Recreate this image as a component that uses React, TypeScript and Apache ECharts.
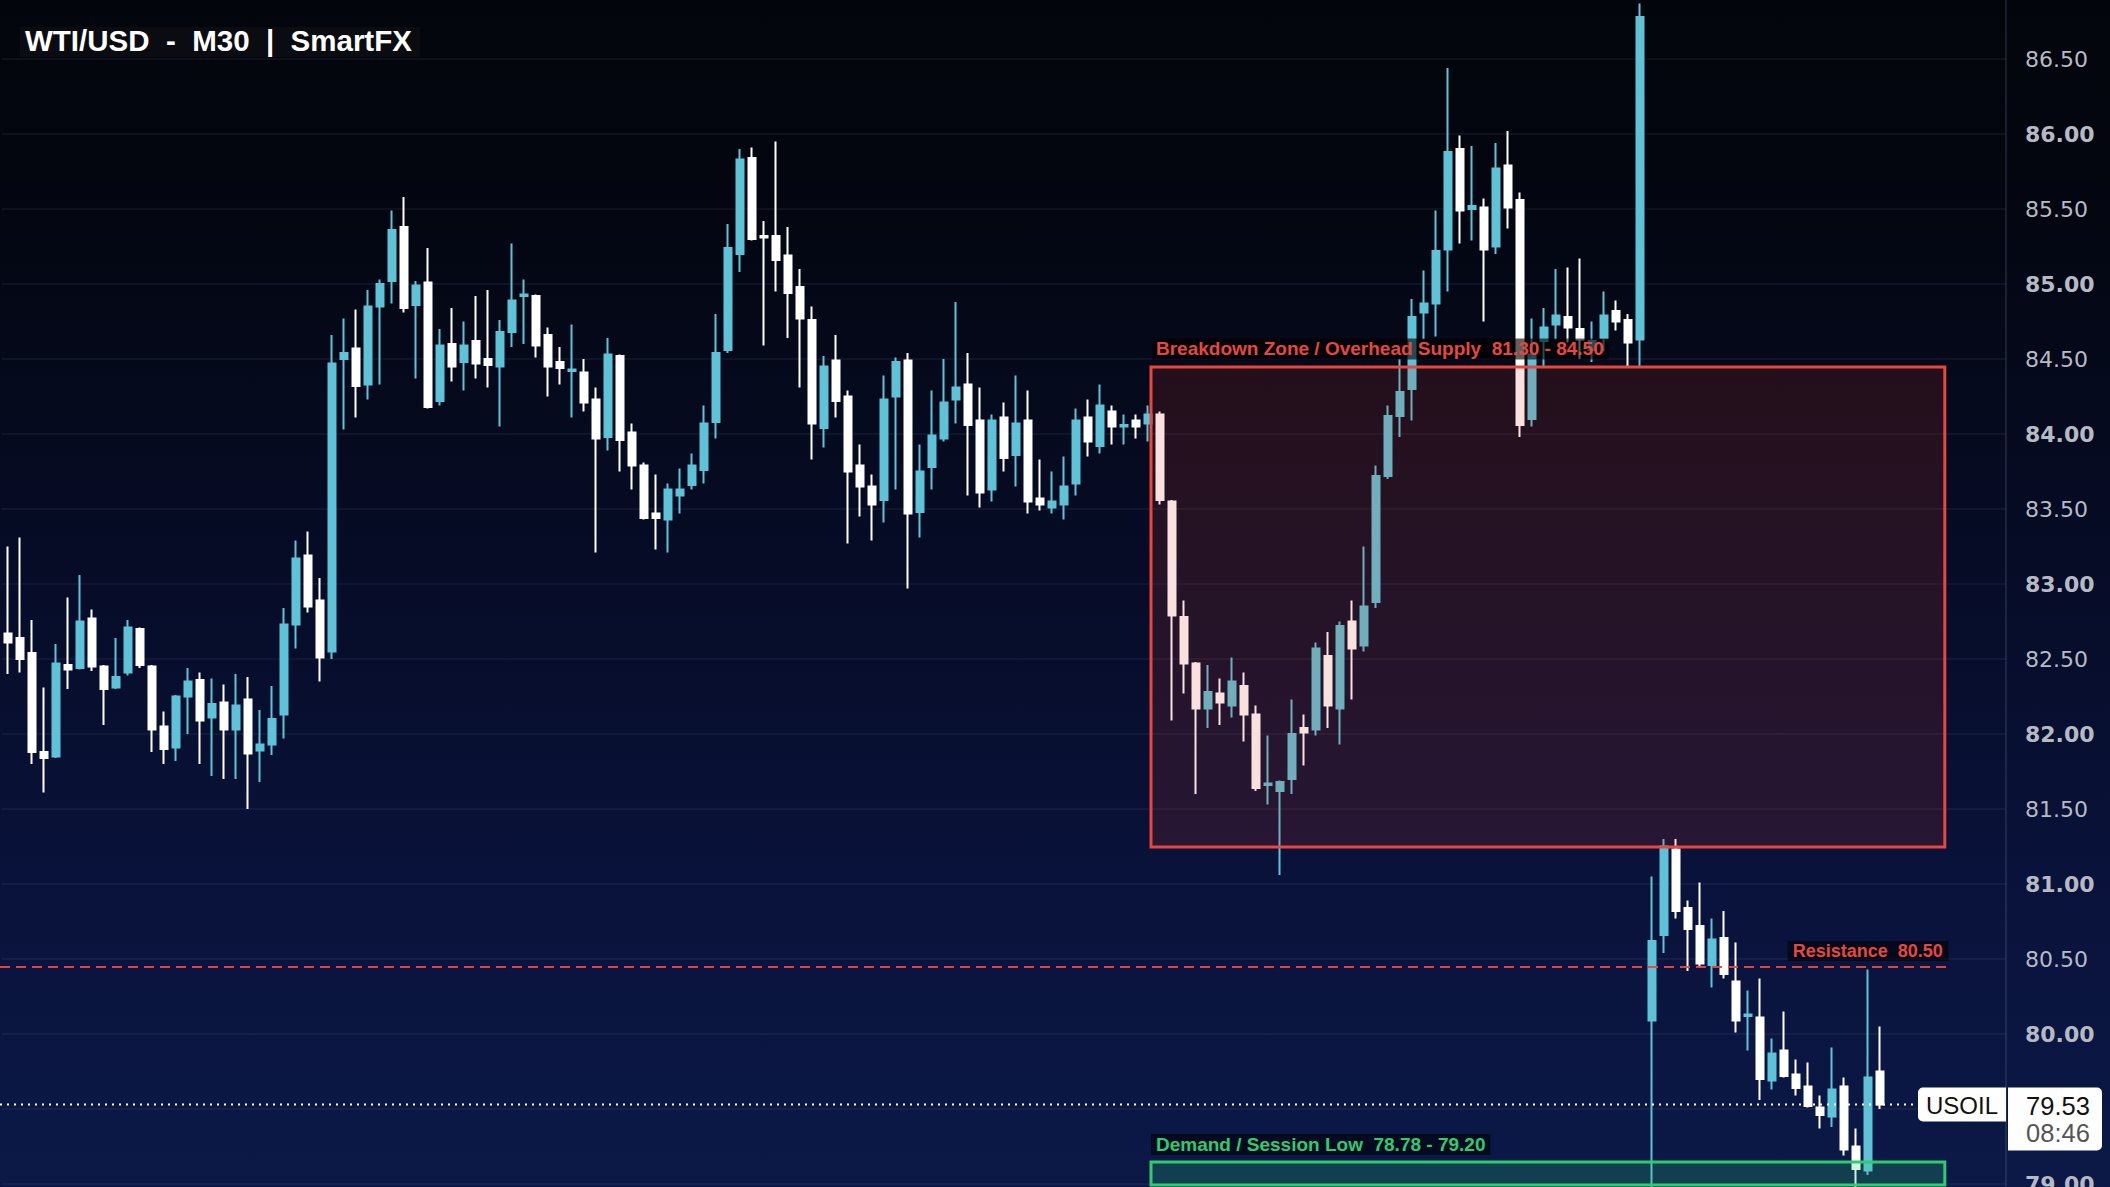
import React, { useEffect, useRef } from "react";
import * as echarts from "echarts";

// ---- OHLC data (M30 bars) ----
const OPEN = [
  82.67, 82.64, 82.54, 81.88, 81.85, 82.46, 82.44, 82.77, 82.45, 82.31,
  82.41, 82.70, 82.45, 82.05, 81.91, 82.25, 82.36, 82.11, 82.21, 82.03,
  82.23, 81.89, 81.93, 82.13, 82.73, 83.19, 82.89, 82.55, 84.50, 84.57,
  84.33, 84.85, 85.02, 85.38, 84.86, 85.01, 84.22, 84.60, 84.48, 84.62,
  84.50, 84.45, 84.68, 84.92, 84.92, 84.66, 84.48, 84.42, 84.41, 84.23,
  83.98, 84.52, 84.01, 83.79, 83.47, 83.43, 83.59, 83.66, 83.76, 84.08,
  84.56, 85.20, 85.84, 85.32, 85.32, 85.19, 84.98, 84.76, 84.04, 84.49,
  84.25, 83.79, 83.65, 83.56, 84.25, 84.49, 83.48, 83.78, 83.97, 84.23,
  84.33, 84.09, 83.63, 84.11, 83.86, 84.09, 83.57, 83.51, 83.53, 83.67,
  84.11, 83.92, 84.15, 84.05, 84.09, 84.07, 84.13, 83.55, 82.78, 82.47,
  82.17, 82.27, 82.19, 82.32, 82.13, 81.66, 81.62, 81.70, 82.04, 82.03,
  82.52, 82.17, 82.75, 82.59, 82.88, 83.72, 84.12, 84.30, 84.81, 84.87,
  85.23, 85.90, 85.50, 85.51, 85.25, 85.79, 85.56, 84.10, 84.62, 84.73,
  84.78, 84.70, 84.56, 84.64, 84.82, 84.76, 84.63, 80.09, 80.66, 81.23,
  80.84, 80.72, 80.46, 80.64, 80.35, 80.12, 80.11, 79.69, 79.89, 79.73,
  79.65, 79.51, 79.45, 79.65, 79.25, 79.09, 79.75,
];
const CLOSE = [
  82.61, 82.50, 81.88, 81.84, 82.47, 82.43, 82.75, 82.45, 82.30, 82.38,
  82.71, 82.46, 82.03, 81.90, 82.25, 82.35, 82.09, 82.20, 82.03, 82.19,
  81.87, 81.93, 82.10, 82.73, 83.17, 82.85, 82.51, 84.47, 84.54, 84.32,
  84.85, 85.00, 85.36, 84.84, 84.99, 84.18, 84.59, 84.45, 84.59, 84.47,
  84.46, 84.68, 84.89, 84.93, 84.59, 84.45, 84.44, 84.43, 84.21, 83.97,
  84.53, 83.96, 83.79, 83.44, 83.44, 83.63, 83.63, 83.79, 84.07, 84.54,
  85.24, 85.83, 85.30, 85.31, 85.16, 84.94, 84.77, 84.07, 84.45, 84.22,
  83.75, 83.65, 83.53, 84.23, 84.48, 83.47, 83.75, 83.99, 84.21, 84.31,
  84.06, 83.61, 84.09, 83.84, 84.07, 83.55, 83.53, 83.55, 83.65, 84.09,
  83.95, 84.19, 84.05, 84.06, 84.05, 84.13, 83.56, 82.79, 82.47, 82.17,
  82.28, 82.21, 82.35, 82.13, 81.64, 81.67, 81.68, 82.00, 82.01, 82.57,
  82.19, 82.72, 82.57, 82.85, 83.72, 84.12, 84.28, 84.78, 84.87, 85.22,
  85.88, 85.49, 85.52, 85.23, 85.77, 85.51, 84.06, 84.53, 84.71, 84.79,
  84.71, 84.63, 84.62, 84.79, 84.75, 84.61, 86.78, 80.62, 81.25, 80.82,
  80.70, 80.47, 80.63, 80.40, 80.09, 80.13, 79.70, 79.87, 79.72, 79.64,
  79.52, 79.46, 79.63, 79.23, 79.10, 79.71, 79.53,
];
const LOW = [
  82.40, 82.41, 81.80, 81.61, 81.84, 82.30, 82.43, 82.42, 82.06, 82.30,
  82.39, 82.44, 81.88, 81.80, 81.82, 82.00, 81.80, 81.72, 81.70, 81.70,
  81.50, 81.68, 81.86, 81.97, 82.57, 82.81, 82.35, 82.50, 84.03, 84.11,
  84.23, 84.33, 84.87, 84.81, 84.37, 84.17, 84.19, 84.35, 84.29, 84.37,
  84.31, 84.05, 84.58, 84.60, 84.51, 84.25, 84.33, 84.11, 84.15, 83.21,
  83.89, 83.75, 83.63, 83.43, 83.23, 83.21, 83.47, 83.63, 83.67, 83.97,
  84.54, 85.08, 85.29, 84.59, 84.95, 84.64, 84.31, 83.83, 83.91, 84.11,
  83.27, 83.45, 83.29, 83.41, 83.63, 82.97, 83.31, 83.63, 83.95, 84.07,
  83.59, 83.51, 83.55, 83.75, 83.65, 83.47, 83.49, 83.47, 83.43, 83.59,
  83.85, 83.87, 83.93, 83.93, 83.97, 83.95, 83.53, 82.09, 82.27, 81.60,
  82.04, 82.06, 82.11, 81.95, 81.62, 81.53, 81.06, 81.60, 81.79, 81.99,
  82.04, 81.93, 82.23, 82.55, 82.84, 83.70, 83.98, 84.09, 84.63, 84.65,
  84.95, 85.27, 85.29, 84.75, 85.20, 85.37, 83.98, 84.05, 84.45, 84.63,
  84.61, 84.50, 84.48, 84.55, 84.69, 84.45, 84.44, 78.78, 80.54, 80.77,
  80.42, 80.44, 80.31, 80.37, 80.01, 79.89, 79.56, 79.63, 79.71, 79.59,
  79.51, 79.37, 79.38, 79.19, 78.95, 79.06, 79.50,
];
const HIGH = [
  83.25, 83.31, 82.76, 82.31, 82.60, 82.91, 83.06, 82.83, 82.46, 82.64,
  82.76, 82.71, 82.46, 82.15, 82.26, 82.44, 82.41, 82.37, 82.33, 82.40,
  82.38, 82.16, 82.32, 82.84, 83.29, 83.35, 83.04, 84.66, 84.77, 84.83,
  84.96, 85.03, 85.49, 85.58, 85.02, 85.24, 84.70, 84.84, 84.75, 84.92,
  84.96, 84.76, 85.27, 85.03, 84.93, 84.71, 84.58, 84.73, 84.50, 84.31,
  84.64, 84.53, 84.07, 83.81, 83.73, 83.67, 83.77, 83.87, 84.19, 84.80,
  85.40, 85.90, 85.91, 85.42, 85.95, 85.38, 85.10, 84.85, 84.52, 84.66,
  84.29, 83.93, 83.73, 84.39, 84.51, 84.54, 83.93, 84.29, 84.50, 84.88,
  84.54, 84.31, 84.13, 84.21, 84.39, 84.29, 83.83, 83.75, 83.85, 84.17,
  84.23, 84.33, 84.19, 84.13, 84.13, 84.19, 84.15, 83.56, 82.89, 82.48,
  82.46, 82.37, 82.51, 82.41, 82.19, 81.99, 81.69, 82.23, 82.13, 82.61,
  82.68, 82.75, 82.89, 83.25, 83.79, 84.19, 84.50, 84.90, 85.09, 85.49,
  86.44, 85.99, 85.92, 85.57, 85.94, 86.02, 85.61, 84.77, 84.84, 85.10,
  85.11, 85.17, 84.75, 84.95, 84.89, 84.80, 86.87, 81.05, 81.30, 81.30,
  80.89, 81.01, 80.77, 80.82, 80.61, 80.29, 80.37, 79.97, 80.15, 79.83,
  79.81, 79.59, 79.91, 79.71, 79.37, 80.43, 80.05,
];

// ---- axis / annotation values ----
const EXTRA_SLOTS = 10; // empty bars to the right of the last candle
const Y_MIN = 78.5;
const Y_MAX = 87;
const Y_STEP = 0.5;

const TITLE = "WTI/USD  -  M30  |  SmartFX";
const SUPPLY_ZONE = { label: "Breakdown Zone / Overhead Supply  81.30 - 84.50", low: 81.3, high: 84.5 };
const DEMAND_ZONE = { label: "Demand / Session Low  78.78 - 79.20", low: 78.78, high: 79.2 };
const RESISTANCE = { label: "Resistance  80.50", value: 80.5 };
const LAST = { symbol: "USOIL", price: 79.53, countdown: "08:46" };
const ZONE_START_BAR = 95.25;
const ZONE_END_BAR = 161.4;
const ANNOT_SHIFT = -0.053; // annotations are drawn slightly below their labelled value in the reference

const UP = "#5fc3d8";
const DOWN = "#ffffff";
const RED = "#e8473d";
const GREEN = "#2fcb70";
const AXIS_TEXT = "#b6bac4";
const LABEL_FONT = '"Liberation Sans", Arial, sans-serif';

// the chart canvas is taller than the window and shifted up, so that the
// 0.5-step price grid lands where the reference shows it
const PAGE_W = 2110;
const PAGE_H = 1187;
const SHIFT_UP = 16;
const CHART_H = 1275;

export default function App() {
  const ref = useRef<HTMLDivElement>(null);

  useEffect(() => {
    document.body.style.margin = "0";
    const el = ref.current!;
    const chart = echarts.init(el, null, { renderer: "svg" });
    const n = OPEN.length;
    const categories = Array.from({ length: n + EXTRA_SLOTS }, (_, i) => String(i));
    const data = OPEN.map((o, i) => [o, CLOSE[i], LOW[i], HIGH[i]]);

    chart.setOption({
      animation: false,
      backgroundColor: new echarts.graphic.LinearGradient(0, 0, 0, 1, [
        { offset: 0, color: "#03050c" },
        { offset: 0.15, color: "#03060f" },
        { offset: 0.45, color: "#060c26" },
        { offset: 0.7, color: "#09123a" },
        { offset: 1, color: "#0c1a4a" },
      ]),
      grid: { left: 2, right: 104, top: 0, bottom: 0, outerBoundsMode: "none", containLabel: false },
      xAxis: {
        type: "category",
        data: categories,
        boundaryGap: true,
        axisLine: { show: false },
        axisTick: { show: false },
        axisLabel: { show: false },
        splitLine: { show: false },
      },
      yAxis: {
        type: "value",
        position: "right",
        min: Y_MIN,
        max: Y_MAX,
        interval: Y_STEP,
        axisLine: { show: true, lineStyle: { color: "rgba(120,130,170,0.2)", width: 2 } },
        axisTick: { show: false },
        splitLine: { show: true, lineStyle: { color: "rgba(120,130,170,0.12)", width: 1.5 } },
        axisLabel: {
          margin: 19,
          formatter: (v: number) => {
            // labels outside the window, or under the last-price tag, are not shown
            if (Math.abs(v - LAST.price) < 0.2) return "";
            if (v > 86.8 || v < 78.9) return "";
            const s = v.toFixed(2);
            return Math.abs(v - Math.round(v)) < 1e-9 ? `{b|${s}}` : `{n|${s}}`;
          },
          rich: {
            b: { fontFamily: '"DejaVu Sans", sans-serif', fontWeight: "bold", fontSize: 22, color: AXIS_TEXT },
            n: { fontFamily: '"DejaVu Sans", sans-serif', fontSize: 22, color: AXIS_TEXT },
          },
        },
      },
      series: [
        {
          type: "candlestick",
          data,
          barWidth: 8,
          itemStyle: {
            color: UP,
            color0: DOWN,
            borderColor: UP,
            borderColor0: DOWN,
            borderWidth: 2,
          },
        },
      ],
    });

    const pt = (i: number, v: number) => chart.convertToPixel({ gridIndex: 0 }, [i, v]) as number[];
    const x0 = pt(0, 80)[0];
    const step = pt(1, 80)[0] - x0;
    const xAt = (f: number) => x0 + f * step;
    const yAt = (v: number) => pt(0, v)[1];
    const Y = (pageY: number) => pageY + SHIFT_UP; // page coordinate -> chart coordinate

    const zoneL = xAt(ZONE_START_BAR);
    const zoneR = xAt(ZONE_END_BAR);
    const supplyTop = yAt(SUPPLY_ZONE.high + ANNOT_SHIFT);
    const supplyBot = yAt(SUPPLY_ZONE.low + ANNOT_SHIFT);
    const demandTop = yAt(DEMAND_ZONE.high + ANNOT_SHIFT);
    const demandBot = Math.min(yAt(DEMAND_ZONE.low + ANNOT_SHIFT), Y(1185));
    const resY = yAt(RESISTANCE.value + ANNOT_SHIFT);
    const priceY = yAt(LAST.price);
    const axisX = PAGE_W - 104;

    const elements: any[] = [
      // title
      { type: "rect", z: 30, shape: { x: 20, y: Y(27), width: 400, height: 30 }, style: { fill: "#0a0c12" } },
      {
        type: "text", z: 31,
        style: { text: TITLE, x: 25, y: Y(40), fill: "#ffffff", font: `bold 29.5px ${LABEL_FONT}`, align: "left", verticalAlign: "middle", textAlign: "left", textVerticalAlign: "middle" },
      },
      // supply zone
      {
        type: "rect", z: 20,
        shape: { x: zoneL, y: supplyTop, width: zoneR - zoneL, height: supplyBot - supplyTop },
        style: { fill: "rgba(215,55,35,0.15)", stroke: RED, lineWidth: 3 },
      },
      // demand zone
      {
        type: "rect", z: 20,
        shape: { x: zoneL, y: demandTop, width: zoneR - zoneL, height: demandBot - demandTop },
        style: { fill: "rgba(46,204,113,0.22)", stroke: GREEN, lineWidth: 3 },
      },
      // resistance line
      {
        type: "line", z: 21,
        shape: { x1: 0, y1: resY, x2: zoneR + 5, y2: resY },
        style: { stroke: RED, lineWidth: 2, lineDash: [10, 6], opacity: 0.95 },
      },
      // last price line
      {
        type: "line", z: 21,
        shape: { x1: 0, y1: priceY, x2: axisX - 88, y2: priceY },
        style: { stroke: "#ffffff", lineWidth: 2, lineDash: [2, 5] },
      },
      // labels
      {
        type: "text", z: 23,
        style: {
          text: SUPPLY_ZONE.label, x: zoneL + 1, y: supplyTop - 18, fill: RED, font: `bold 19px ${LABEL_FONT}`,
          align: "left", verticalAlign: "middle", textAlign: "left", textVerticalAlign: "middle",
          backgroundColor: "rgba(0,0,0,0.62)", padding: [1, 5, 1, 4],
        },
      },
      {
        type: "text", z: 23,
        style: {
          text: DEMAND_ZONE.label, x: zoneL, y: demandTop - 17.5, fill: GREEN, font: `bold 19px ${LABEL_FONT}`,
          align: "left", verticalAlign: "middle", textAlign: "left", textVerticalAlign: "middle",
          backgroundColor: "rgba(0,0,0,0.55)", padding: [1, 5, 1, 5],
        },
      },
      {
        type: "text", z: 23,
        style: {
          text: RESISTANCE.label, x: zoneR + 4, y: resY - 16, fill: RED, font: `bold 18px ${LABEL_FONT}`,
          align: "right", verticalAlign: "middle", textAlign: "right", textVerticalAlign: "middle",
          backgroundColor: "rgba(0,0,0,0.55)", padding: [1, 6, 1, 5],
        },
      },
      // symbol tag
      {
        type: "rect", z: 24,
        shape: { x: axisX - 88, y: priceY - 17, width: 88, height: 34, r: [5, 0, 0, 5] },
        style: { fill: "#ffffff" },
      },
      {
        type: "text", z: 25,
        style: { text: LAST.symbol, x: axisX - 44, y: priceY + 0.5, fill: "#111111", font: `24px ${LABEL_FONT}`, align: "center", verticalAlign: "middle", textAlign: "center", textVerticalAlign: "middle" },
      },
      // price tag
      {
        type: "rect", z: 24,
        shape: { x: axisX + 2, y: priceY - 17, width: 94, height: 63, r: [0, 5, 5, 0] },
        style: { fill: "#ffffff" },
      },
      {
        type: "text", z: 25,
        style: { text: LAST.price.toFixed(2), x: axisX + 52, y: priceY + 1, fill: "#111111", font: `25.5px ${LABEL_FONT}`, align: "center", verticalAlign: "middle", textAlign: "center", textVerticalAlign: "middle" },
      },
      {
        type: "text", z: 25,
        style: { text: LAST.countdown, x: axisX + 52, y: priceY + 28, fill: "#555555", font: `25.5px ${LABEL_FONT}`, align: "center", verticalAlign: "middle", textAlign: "center", textVerticalAlign: "middle" },
      },
    ];

    chart.setOption({ graphic: { elements } });

    return () => chart.dispose();
  }, []);

  return (
    <div style={{ position: "absolute", left: 0, top: 0, width: PAGE_W, height: PAGE_H, overflow: "hidden" }}>
      <div ref={ref} style={{ position: "absolute", left: 0, top: -SHIFT_UP, width: PAGE_W, height: CHART_H }} />
    </div>
  );
}
